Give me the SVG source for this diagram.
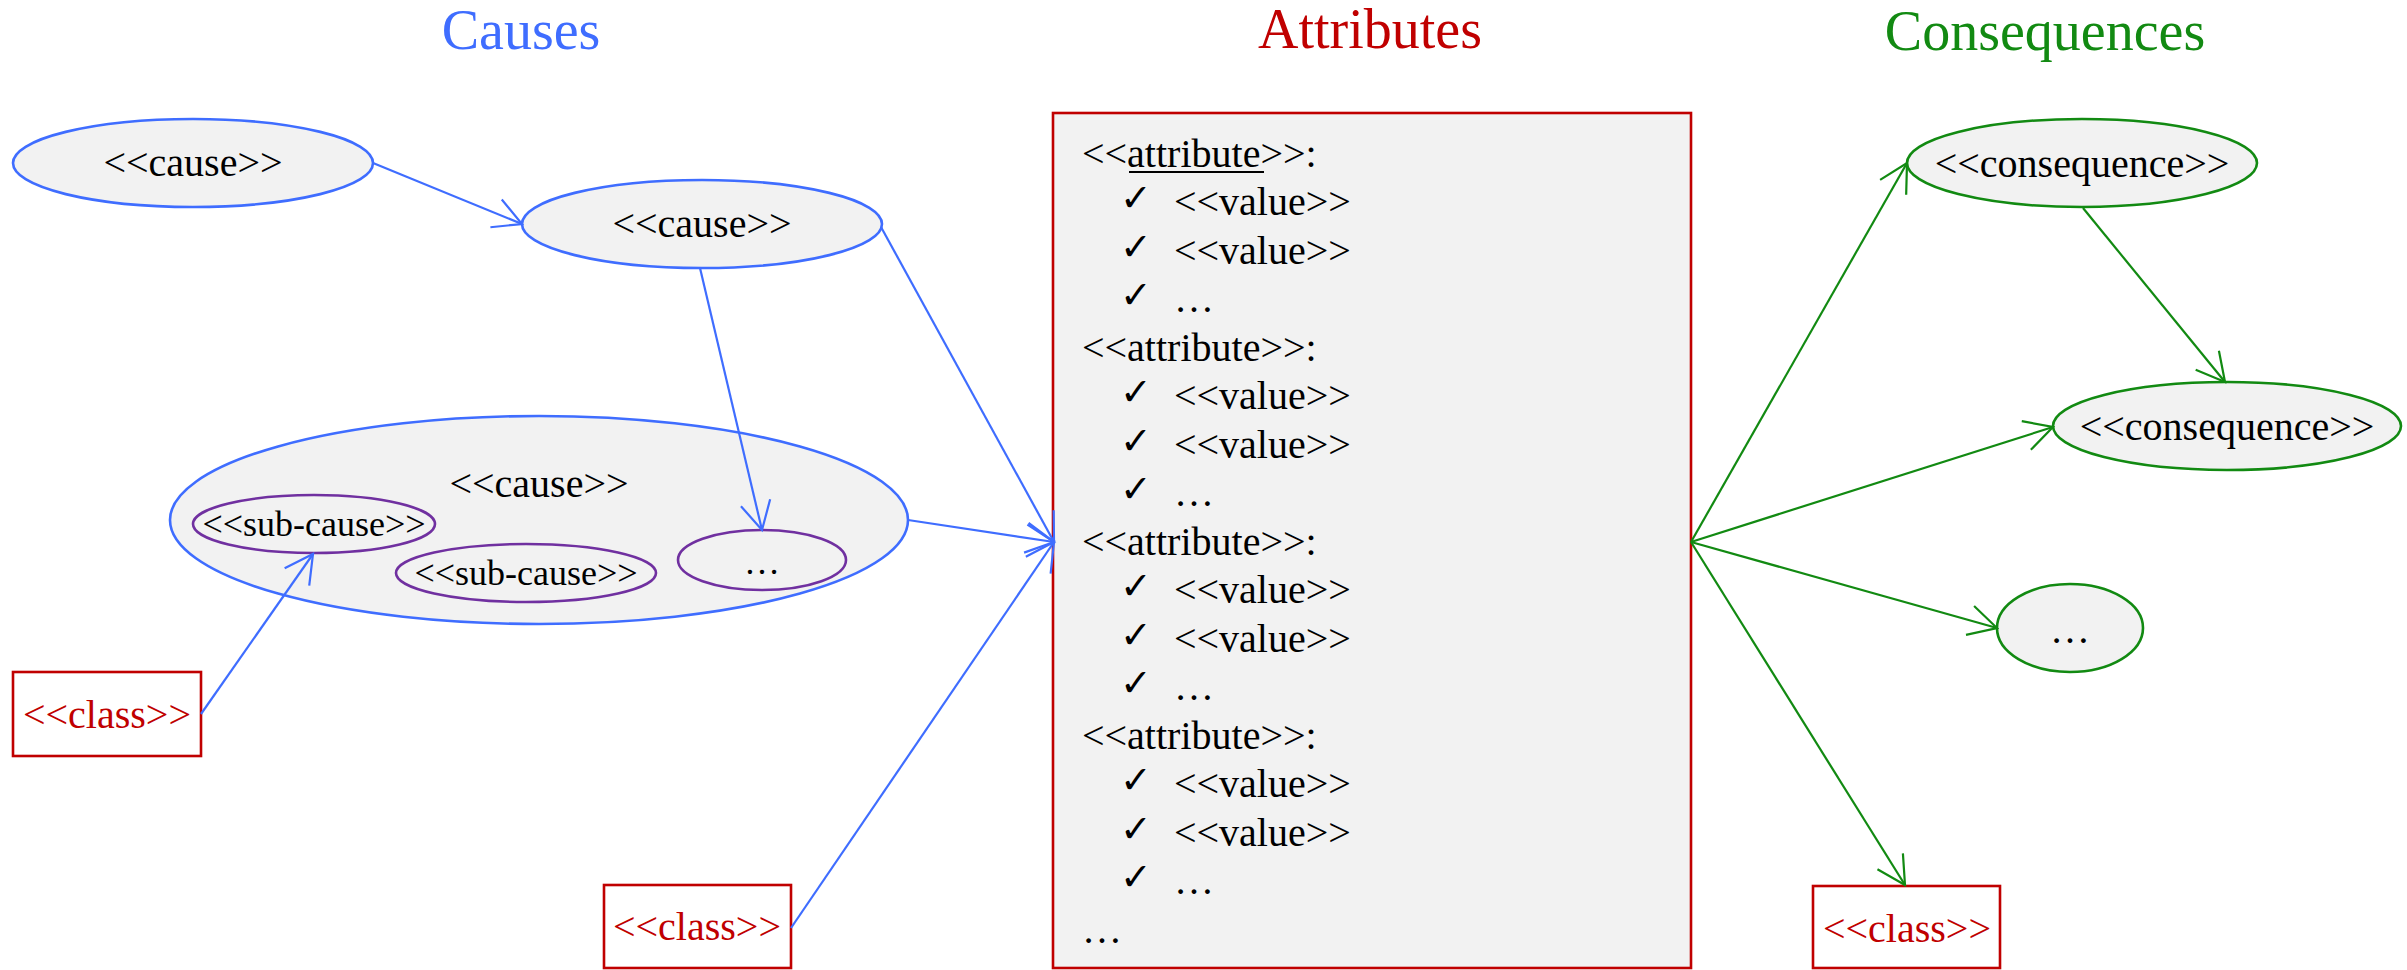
<svg xmlns="http://www.w3.org/2000/svg" width="2407" height="970" viewBox="0 0 2407 970">
  <style>
    .t { font-family: "Liberation Serif", "Times New Roman", serif; fill: #000; }
    .title { font-size: 56px; text-anchor: middle; }
    .lbl { font-size: 40px; text-anchor: middle; }
    .sub { font-size: 36px; text-anchor: middle; }
    .cls { font-size: 40px; text-anchor: middle; fill: #C00000; }
    .row { font-size: 40px; }
    .chk { font-family: "DejaVu Sans", sans-serif; font-size: 38px; font-weight: bold; fill: #000; }
    .cause { fill: #F2F2F2; stroke: #3F6DFF; stroke-width: 2.6; }
    .sub-e { fill: #F2F2F2; stroke: #7030A0; stroke-width: 2.6; }
    .conseq { fill: #F2F2F2; stroke: #128A12; stroke-width: 2.6; }
    .box { fill: #FFFFFF; stroke: #C00000; stroke-width: 2.6; }
    .attr { fill: #F2F2F2; stroke: #C00000; stroke-width: 2.6; }
    .blue { stroke: #3F6DFF; stroke-width: 2.2; fill: none; marker-end: url(#arrBlue); }
    .green { stroke: #128A12; stroke-width: 2.2; fill: none; marker-end: url(#arrGreen); }
  </style>
  <defs>
    <marker id="arrBlue" markerUnits="userSpaceOnUse" markerWidth="40" markerHeight="40" viewBox="-34 -20 40 40" refX="0" refY="0" orient="auto" overflow="visible">
      <path d="M-28,-15 L0,0 L-28,15" fill="none" stroke="#3F6DFF" stroke-width="2.2"/>
    </marker>
    <marker id="arrGreen" markerUnits="userSpaceOnUse" markerWidth="40" markerHeight="40" viewBox="-34 -20 40 40" refX="0" refY="0" orient="auto" overflow="visible">
      <path d="M-28,-15 L0,0 L-28,15" fill="none" stroke="#128A12" stroke-width="2.2"/>
    </marker>
  </defs>

  <rect width="2407" height="970" fill="#FFFFFF"/>

  <!-- column headings -->
  <g id="headings">
    <text class="t title" x="521" y="49" style="fill:#3F6DFF">Causes</text>
    <text class="t title" x="1370" y="48" style="fill:#C00000">Attributes</text>
    <text class="t title" x="2045" y="50" style="fill:#128A12">Consequences</text>
  </g>

  <!-- causes -->
  <g id="cause-1">
    <ellipse class="cause" cx="193" cy="163" rx="180" ry="44"/>
    <text class="t lbl" x="193" y="176">&lt;&lt;cause&gt;&gt;</text>
  </g>
  <g id="cause-2">
    <ellipse class="cause" cx="702" cy="224" rx="180" ry="44"/>
    <text class="t lbl" x="702" y="237">&lt;&lt;cause&gt;&gt;</text>
  </g>
  <g id="cause-3">
    <ellipse class="cause" cx="539" cy="520" rx="369" ry="104"/>
    <text class="t lbl" x="539" y="497">&lt;&lt;cause&gt;&gt;</text>
    <g id="sub-cause-1">
      <ellipse class="sub-e" cx="314" cy="524" rx="121" ry="29"/>
      <text class="t sub" x="314" y="536">&lt;&lt;sub-cause&gt;&gt;</text>
    </g>
    <g id="sub-cause-2">
      <ellipse class="sub-e" cx="526" cy="573" rx="130" ry="29"/>
      <text class="t sub" x="526" y="585">&lt;&lt;sub-cause&gt;&gt;</text>
    </g>
    <g id="sub-cause-more">
      <ellipse class="sub-e" cx="762" cy="560" rx="84" ry="30"/>
      <text class="t sub" x="762" y="574">…</text>
    </g>
  </g>
  <g id="class-cause-1">
    <rect class="box" x="13" y="672" width="188" height="84"/>
    <text class="t cls" x="107" y="728">&lt;&lt;class&gt;&gt;</text>
  </g>
  <g id="class-cause-2">
    <rect class="box" x="604" y="885" width="187" height="83"/>
    <text class="t cls" x="697" y="940">&lt;&lt;class&gt;&gt;</text>
  </g>

  <!-- attributes -->
  <g id="attributes">
    <rect class="attr" x="1053" y="113" width="638" height="855"/>
    <g class="t row">
      <text x="1082" y="167">&lt;&lt;attribute&gt;&gt;:</text>
      <text x="1174" y="215">&lt;&lt;value&gt;&gt;</text>
      <text x="1174" y="264">&lt;&lt;value&gt;&gt;</text>
      <text x="1174" y="312">…</text>
      <text x="1082" y="361">&lt;&lt;attribute&gt;&gt;:</text>
      <text x="1174" y="409">&lt;&lt;value&gt;&gt;</text>
      <text x="1174" y="458">&lt;&lt;value&gt;&gt;</text>
      <text x="1174" y="506">…</text>
      <text x="1082" y="555">&lt;&lt;attribute&gt;&gt;:</text>
      <text x="1174" y="603">&lt;&lt;value&gt;&gt;</text>
      <text x="1174" y="652">&lt;&lt;value&gt;&gt;</text>
      <text x="1174" y="700">…</text>
      <text x="1082" y="749">&lt;&lt;attribute&gt;&gt;:</text>
      <text x="1174" y="797">&lt;&lt;value&gt;&gt;</text>
      <text x="1174" y="846">&lt;&lt;value&gt;&gt;</text>
      <text x="1174" y="894">…</text>
      <text x="1082" y="943">…</text>
    </g>
    <line x1="1129" y1="172" x2="1264" y2="172" stroke="#000" stroke-width="2"/>
    <g class="chk">
      <text x="1120" y="211">✓</text>
      <text x="1120" y="260">✓</text>
      <text x="1120" y="308">✓</text>
      <text x="1120" y="405">✓</text>
      <text x="1120" y="454">✓</text>
      <text x="1120" y="502">✓</text>
      <text x="1120" y="599">✓</text>
      <text x="1120" y="648">✓</text>
      <text x="1120" y="696">✓</text>
      <text x="1120" y="793">✓</text>
      <text x="1120" y="842">✓</text>
      <text x="1120" y="890">✓</text>
    </g>
  </g>

  <!-- consequences -->
  <g id="consequence-1">
    <ellipse class="conseq" cx="2082" cy="163" rx="175" ry="44"/>
    <text class="t lbl" x="2082" y="177">&lt;&lt;consequence&gt;&gt;</text>
  </g>
  <g id="consequence-2">
    <ellipse class="conseq" cx="2227" cy="426" rx="174" ry="44"/>
    <text class="t lbl" x="2227" y="440">&lt;&lt;consequence&gt;&gt;</text>
  </g>
  <g id="consequence-more">
    <ellipse class="conseq" cx="2070" cy="628" rx="73" ry="44"/>
    <text class="t lbl" x="2070" y="643">…</text>
  </g>
  <g id="class-consequence">
    <rect class="box" x="1813" y="886" width="187" height="82"/>
    <text class="t cls" x="1907" y="942">&lt;&lt;class&gt;&gt;</text>
  </g>

  <!-- connectors -->
  <g id="connectors">
    <line class="blue" x1="373" y1="163" x2="522" y2="224"/>
    <line class="blue" x1="700" y1="268" x2="762" y2="530"/>
    <line class="blue" x1="881" y1="227" x2="1054" y2="542"/>
    <line class="blue" x1="908" y1="520" x2="1054" y2="542"/>
    <line class="blue" x1="201" y1="714" x2="313" y2="554"/>
    <line class="blue" x1="791" y1="928" x2="1054" y2="542"/>
    <line class="green" x1="1691" y1="542" x2="1907" y2="163"/>
    <line class="green" x1="1691" y1="542" x2="2053" y2="427"/>
    <line class="green" x1="1691" y1="542" x2="1997" y2="628"/>
    <line class="green" x1="1691" y1="542" x2="1905" y2="885"/>
    <line class="green" x1="2083" y1="208" x2="2225" y2="382"/>
  </g>
</svg>
